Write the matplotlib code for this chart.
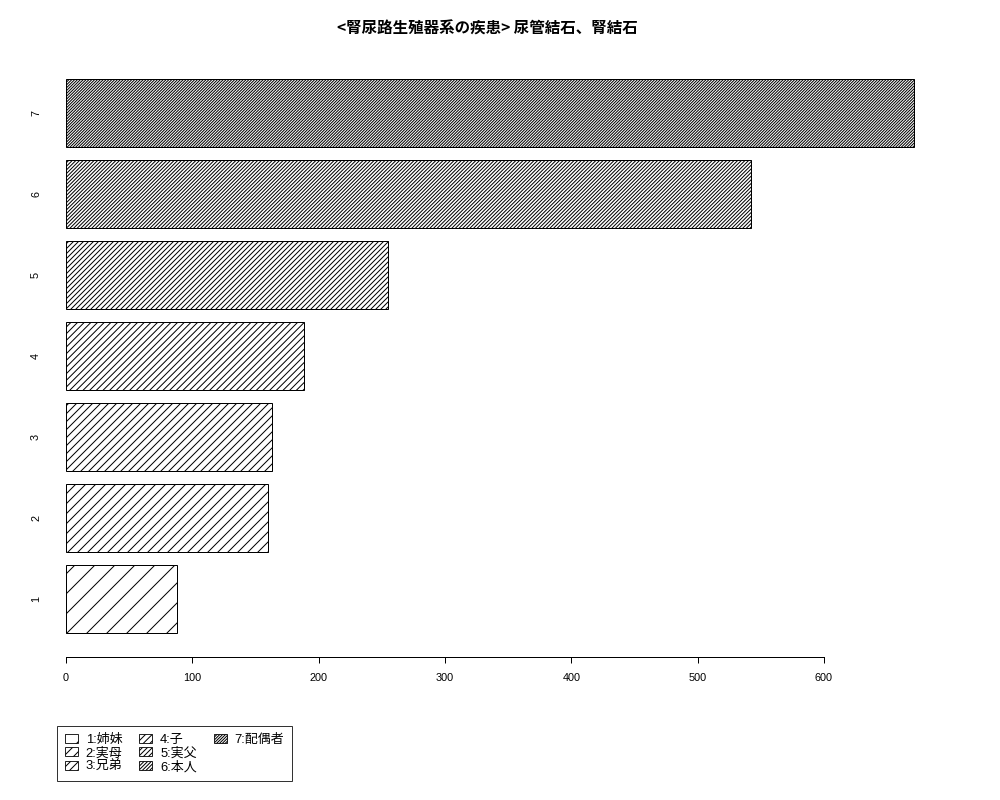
import matplotlib
matplotlib.use("Agg")
import matplotlib.pyplot as plt
from matplotlib.patches import Patch

# data
bar_names = ['1', '2', '3', '4', '5', '6', '7']
counts = [88, 160, 163, 188, 255, 542, 671]
legend_labels = ['1:姉妹', '2:実母', '3:兄弟', '4:子', '5:実父', '6:本人', '7:配偶者']
hatch_reps = [2, 4, 5, 6, 8, 11, 14]
title = '<腎尿路生殖器系の疾患> 尿管結石、腎結石'
xticks = [0, 100, 200, 300, 400, 500, 600]

DPI = 120
W, H = 1000, 800
plt.rcParams['font.family'] = ['Liberation Sans', 'Noto Sans CJK JP', 'DejaVu Sans']
plt.rcParams['hatch.linewidth'] = 0.6

fig = plt.figure(figsize=(W / DPI, H / DPI), dpi=DPI)

# axes placed in pixels
left, right, top, bottom = 66, 948, 57, 657
ax = fig.add_axes([left / W, 1 - bottom / H, (right - left) / W, (bottom - top) / H])

hatches = ['/' * n for n in hatch_reps]
pos = list(range(1, len(counts) + 1))
for p, c, h in zip(pos, counts, hatches):
    ax.barh(p, c, height=1 / 1.2, color='white', edgecolor='black',
            linewidth=0.6, hatch=h)

ax.set_xlim(0, (right - left) / 1.2633)
ax.set_ylim(0.287, 7.688)

for s in ['left', 'right', 'top']:
    ax.spines[s].set_visible(False)
ax.spines['bottom'].set_bounds(0, 600)
ax.spines['bottom'].set_linewidth(0.6)

ax.set_xticks(xticks)
ax.set_xticklabels([str(t) for t in xticks])
ax.tick_params(axis='x', length=3.6, width=0.6, pad=6, labelsize=6.5)
ax.set_yticks(pos)
ax.set_yticklabels(bar_names, rotation=90, va='center')
ax.tick_params(axis='y', length=0, pad=15, labelsize=6.5)

fig.text(487 / W, 1 - 29 / H, title, ha='center', va='center',
         fontsize=9.3, fontweight='bold',
         family=['Noto Sans CJK JP', 'DejaVu Sans'])

# legend: 3 columns of 3, last column padded with blanks
handles = [Patch(facecolor='white', edgecolor='black', linewidth=0.5, hatch=h)
           for h in hatches]
labels = list(legend_labels)
for _ in range(2):
    handles.append(Patch(facecolor='none', edgecolor='none'))
    labels.append('')
leg = fig.legend(handles, labels, ncol=3, loc='upper left',
                 bbox_to_anchor=(57 / W, 1 - 726 / H), fontsize=7.8,
                 frameon=True, fancybox=False, edgecolor='black',
                 handlelength=1.0, handleheight=0.7, handletextpad=0.6,
                 columnspacing=1.3, labelspacing=0.1, borderpad=0.6,
                 borderaxespad=0)
leg.get_frame().set_linewidth(0.6)

fig.savefig('out.png', dpi=DPI)
